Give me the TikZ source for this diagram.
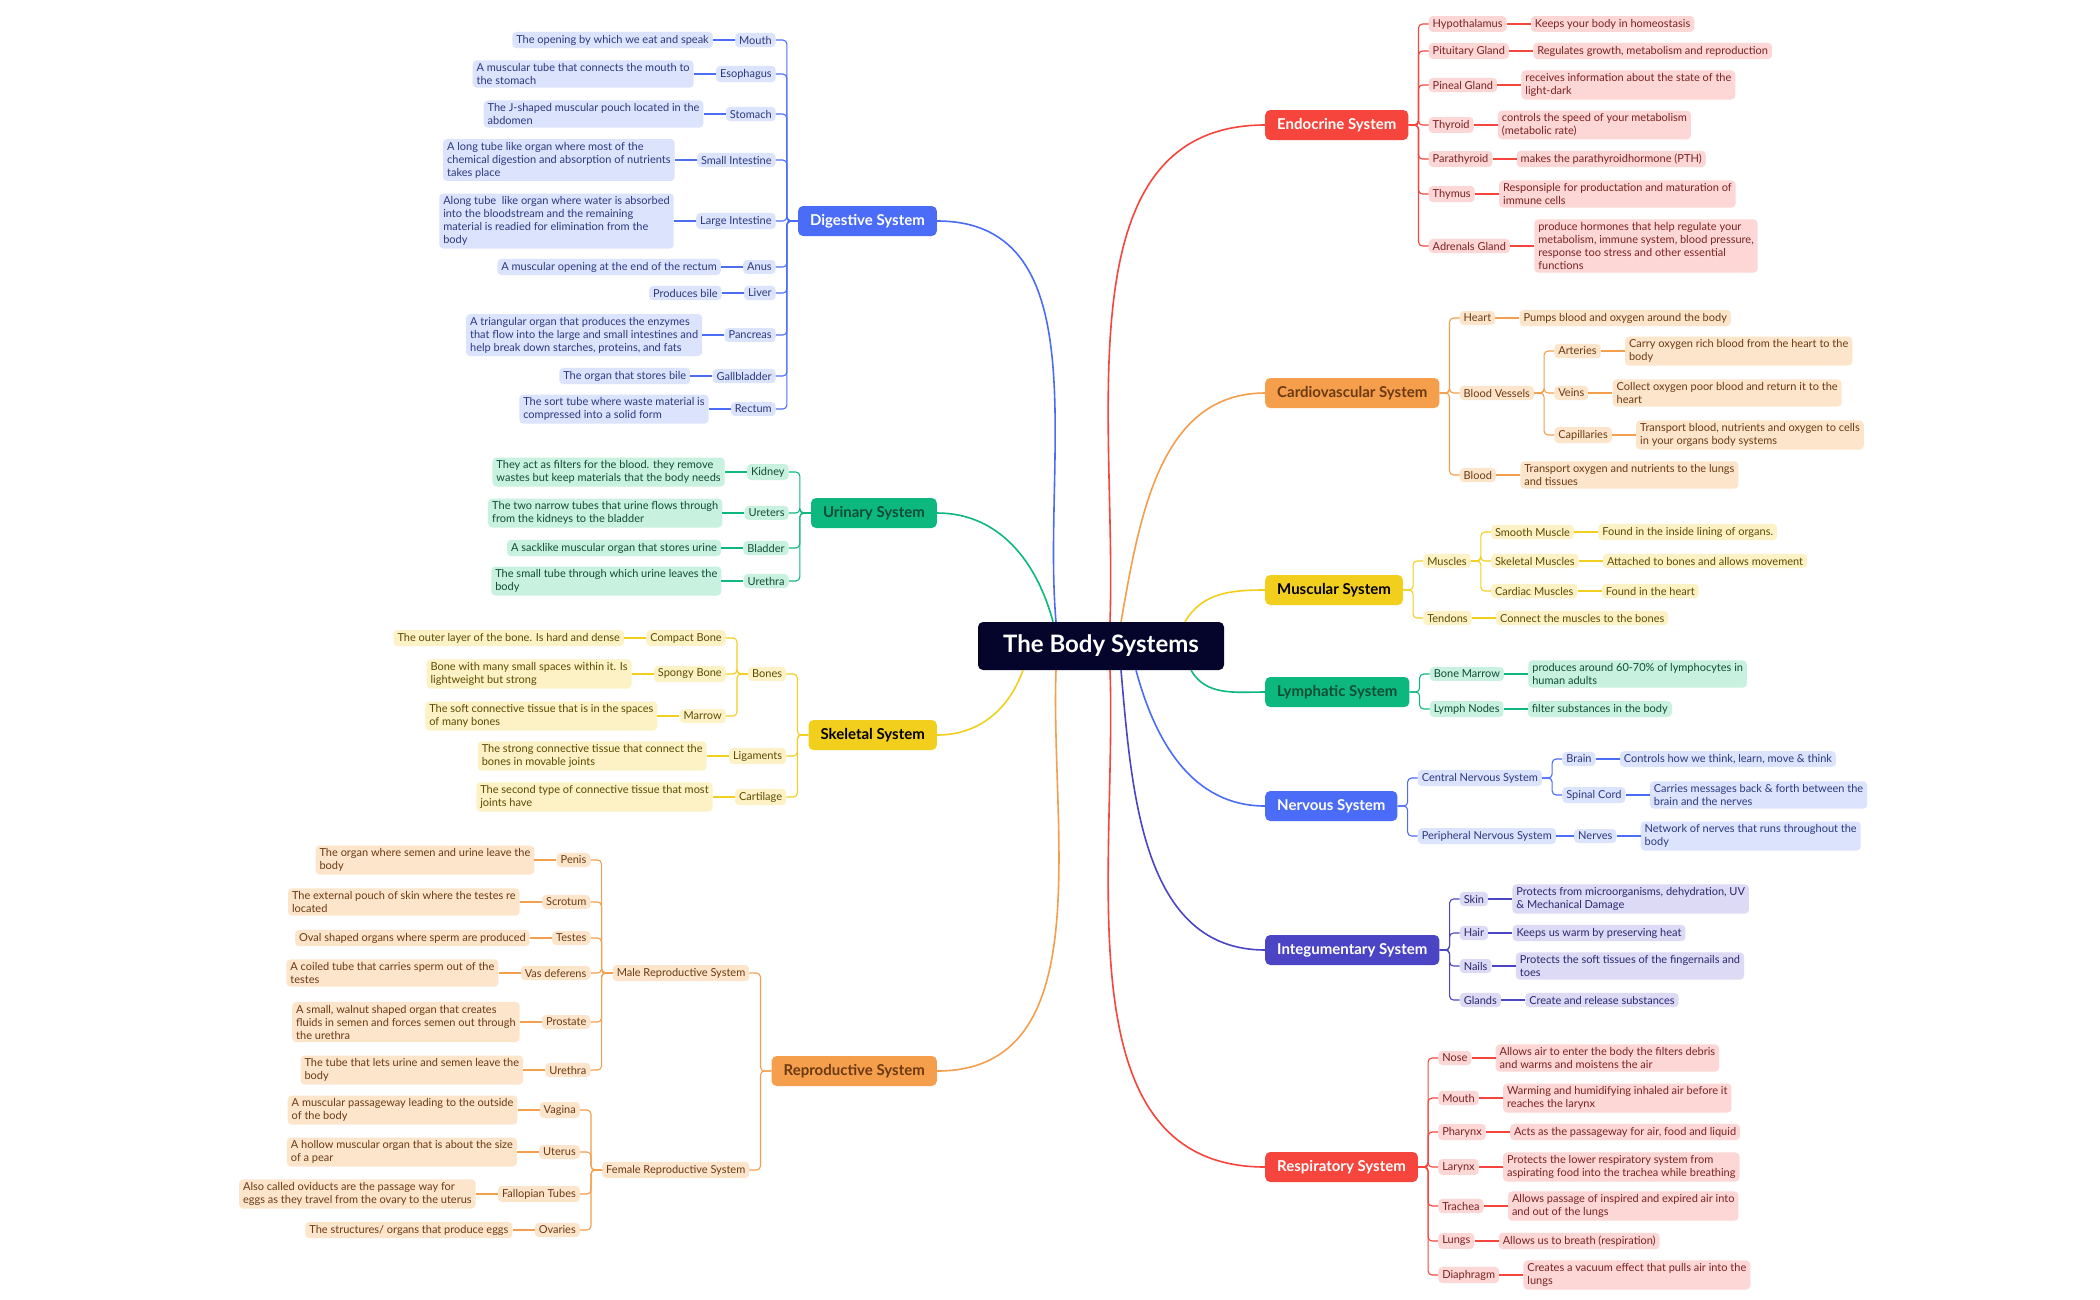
\documentclass[tikz,border=0pt]{standalone}
\usepackage{fontspec}
\setmainfont{Lato}
\usetikzlibrary{positioning}
\definecolor{blueM}{HTML}{4A6CF7}\definecolor{blueL}{HTML}{DCE3FC}\definecolor{blueT}{HTML}{2B3A80}
\definecolor{greenM}{HTML}{0DB87E}\definecolor{greenL}{HTML}{C9F1E0}\definecolor{greenT}{HTML}{0F4D36}
\definecolor{yellowM}{HTML}{F2CF1D}\definecolor{yellowL}{HTML}{FCF2C6}\definecolor{yellowT}{HTML}{5C4B00}
\definecolor{orangeM}{HTML}{F59E4C}\definecolor{orangeL}{HTML}{FDE5CC}\definecolor{orangeT}{HTML}{6B3A12}
\definecolor{redM}{HTML}{F5453D}\definecolor{redL}{HTML}{FDD7D5}\definecolor{redT}{HTML}{7A2222}
\definecolor{indigoM}{HTML}{4B45C6}\definecolor{indigoL}{HTML}{DCDAF4}\definecolor{indigoT}{HTML}{2B2870}
\definecolor{rootC}{HTML}{05052B}
\tikzset{
  sub/.style={fill=#1L, text=#1T, rounded corners=4pt, inner xsep=4pt, inner ysep=3pt,
    font=\fontsize{11}{13}\selectfont, align=left},
  link/.style={draw=#1M, line width=1.1pt, rounded corners=4pt},
  trunk/.style={draw=#1M, line width=1.6pt},
  main/.style={fill=#1M, rounded corners=5pt, minimum height=30pt, inner xsep=12pt,
    font=\fontsize{15}{17}\selectfont\bfseries},
}
% children with leaves, left of parent
\newcommand\twigsL[4]{%
  \foreach \y/\s/\l [count=\i] in {#4} {
    \path (#1.west) ++(-22,0) coordinate (#2x);
    \node[sub=#3, anchor=east] (#2\i) at (#2x |- 0,\y) {\s};
    \node[sub=#3, left=22pt of #2\i] (#2l\i) {\l};
    \draw[link=#3] (#1.west) -- ++(-11,0) |- (#2\i.east);
    \draw[link=#3] (#2\i) -- (#2l\i);
  }}
% children with leaves, right of parent
\newcommand\twigsR[4]{%
  \foreach \y/\s/\l [count=\i] in {#4} {
    \path (#1.east) ++(20,0) coordinate (#2x);
    \node[sub=#3, anchor=west] (#2\i) at (#2x |- 0,\y) {\s};
    \node[sub=#3, right=24pt of #2\i] (#2l\i) {\l};
    \draw[link=#3] (#1.east) -- ++(10,0) |- (#2\i.west);
    \draw[link=#3] (#2\i) -- (#2l\i);
  }}
\begin{document}
\begin{tikzpicture}[x=1pt, y=-1pt]
\useasboundingbox[fill=white] (0,0) rectangle (2100,1299);

\node (root) at (1101,646) [fill=rootC, text=white, rounded corners=5pt, minimum width=246pt,
  minimum height=48pt, font=\fontsize{24}{28}\selectfont\bfseries] {The Body Systems};

% main systems
\node (dig) [main=blue, text=white, anchor=east] at (937,221) {Digestive System};
\node (uri) [main=green, text=greenT, anchor=east] at (937,513) {Urinary System};
\node (ske) [main=yellow, text=black, anchor=east] at (937,735) {Skeletal System};
\node (rep) [main=orange, text=orangeT, anchor=east] at (937,1071) {Reproductive System};
\node (endo) [main=red, text=white, anchor=west] at (1265,125) {Endocrine System};
\node (card) [main=orange, text=orangeT, anchor=west] at (1265,393) {Cardiovascular System};
\node (mus) [main=yellow, text=black, anchor=west] at (1265,590) {Muscular System};
\node (lym) [main=green, text=greenT, anchor=west] at (1265,692) {Lymphatic System};
\node (ner) [main=blue, text=white, anchor=west] at (1265,806) {Nervous System};
\node (integ) [main=indigo, text=white, anchor=west] at (1265,950) {Integumentary System};
\node (resp) [main=red, text=white, anchor=west] at (1265,1167) {Respiratory System};

\draw[trunk=blue] ([xshift=-45pt]root.north) to[out=95, in=0] (dig.east);
\draw[trunk=green] ([xshift=-48pt]root.north) to[out=105, in=0] (uri.east);
\draw[trunk=yellow] ([xshift=-78pt]root.south) to[out=-110, in=0] (ske.east);
\draw[trunk=orange] ([xshift=-45pt]root.south) to[out=-92, in=0] (rep.east);
\draw[trunk=red] ([xshift=9pt]root.north) to[out=88, in=180] (endo.west);
\draw[trunk=orange] ([xshift=20pt]root.north) to[out=80, in=180] (card.west);
\draw[trunk=yellow] ([xshift=84pt]root.north) to[out=60, in=180] (mus.west);
\draw[trunk=green] ([xshift=90pt]root.south) to[out=-60, in=180] (lym.west);
\draw[trunk=blue] ([xshift=35pt]root.south) to[out=-75, in=180] (ner.west);
\draw[trunk=indigo] ([xshift=20pt]root.south) to[out=-85, in=180] (integ.west);
\draw[trunk=red] ([xshift=9pt]root.south) to[out=-88, in=180] (resp.west);

% digestive
\twigsL{dig}{d}{blue}{
  40/Mouth/{The opening by which we eat and speak},
  74/Esophagus/{A muscular tube that connects the mouth to\\the stomach},
  114/Stomach/{The J-shaped muscular pouch located in the\\abdomen},
  160/Small Intestine/{A long tube like organ where most of the\\chemical digestion and absorption of nutrients\\takes place},
  221/Large Intestine/{Along tube\ \ like organ where water is absorbed\\into the bloodstream and the remaining\\material is readied for elimination from the\\body},
  267/Anus/{A muscular opening at the end of the rectum},
  293/Liver/{Produces bile},
  335/Pancreas/{A triangular organ that produces the enzymes\\that flow into the large and small intestines and\\help break down starches, proteins, and fats},
  376/Gallbladder/{The organ that stores bile},
  409/Rectum/{The sort tube where waste material is\\compressed into a solid form}}

% urinary
\twigsL{uri}{u}{green}{
  472/Kidney/{They act as filters for the blood. they remove\\wastes but keep materials that the body needs},
  513/Ureters/{The two narrow tubes that urine flows through\\from the kidneys to the bladder},
  548/Bladder/{A sacklike muscular organ that stores urine},
  581/Urethra/{The small tube through which urine leaves the\\body}}

% skeletal
\path (ske.west) ++(-22,0) coordinate (bx);
\node (bones) [sub=yellow, anchor=east] at (bx |- 0,674) {Bones};
\draw[link=yellow] (ske.west) -- ++(-11,0) |- (bones.east);
\twigsL{ske}{s}{yellow}{
  756/Ligaments/{The strong connective tissue that connect the\\bones in movable joints},
  797/Cartilage/{The second type of connective tissue that most\\joints have}}
\twigsL{bones}{b}{yellow}{
  638/Compact Bone/{The outer layer of the bone. Is hard and dense},
  674/Spongy Bone/{Bone with many small spaces within it. Is\\lightweight but strong},
  716/Marrow/{The soft connective tissue that is in the spaces\\of many bones}}

% reproductive
\path (rep.west) ++(-22,0) coordinate (rx);
\node (male) [sub=orange, anchor=east] at (rx |- 0,973) {Male Reproductive System};
\node (female) [sub=orange, anchor=east] at (rx |- 0,1170) {Female Reproductive System};
\draw[link=orange] (rep.west) -- ++(-11,0) |- (male.east);
\draw[link=orange] (rep.west) -- ++(-11,0) |- (female.east);
\twigsL{male}{m}{orange}{
  860/Penis/{The organ where semen and urine leave the\\body},
  902/Scrotum/{The external pouch of skin where the testes re\\located},
  938/Testes/{Oval shaped organs where sperm are produced},
  973/Vas deferens/{A coiled tube that carries sperm out of the\\testes},
  1022/Prostate/{A small, walnut shaped organ that creates\\fluids in semen and forces semen out through\\the urethra},
  1070/Urethra/{The tube that lets urine and semen leave the\\body}}
\twigsL{female}{f}{orange}{
  1110/Vagina/{A muscular passageway leading to the outside\\of the body},
  1152/Uterus/{A hollow muscular organ that is about the size\\of a pear},
  1194/Fallopian Tubes/{Also called oviducts are the passage way for\\eggs as they travel from the ovary to the uterus},
  1230/Ovaries/{The structures/ organs that produce eggs}}

% endocrine
\twigsR{endo}{e}{red}{
  24/Hypothalamus/{Keeps your body in homeostasis},
  51/Pituitary Gland/{Regulates growth, metabolism and reproduction},
  85/Pineal Gland/{receives information about the state of the\\light-dark},
  125/Thyroid/{controls the speed of your metabolism\\(metabolic rate)},
  159/Parathyroid/{makes the parathyroidhormone (PTH)},
  194/Thymus/{Responsiple for productation and maturation of\\immune cells},
  246/Adrenals Gland/{produce hormones that help regulate your\\metabolism, immune system, blood pressure,\\response too stress and other essential\\functions}}

% cardiovascular
\path (card.east) ++(20,0) coordinate (cx);
\node (vessels) [sub=orange, anchor=west] at (cx |- 0,393) {Blood Vessels};
\draw[link=orange] (card.east) -- ++(10,0) |- (vessels.west);
\twigsR{card}{c}{orange}{
  318/Heart/{Pumps blood and oxygen around the body},
  475/Blood/{Transport oxygen and nutrients to the lungs\\and tissues}}
\twigsR{vessels}{v}{orange}{
  351/Arteries/{Carry oxygen rich blood from the heart to the\\body},
  393/Veins/{Collect oxygen poor blood and return it to the\\heart},
  435/Capillaries/{Transport blood, nutrients and oxygen to cells\\in your organs body systems}}

% muscular
\path (mus.east) ++(20,0) coordinate (mx);
\node (muscles) [sub=yellow, anchor=west] at (mx |- 0,561) {Muscles};
\draw[link=yellow] (mus.east) -- ++(10,0) |- (muscles.west);
\twigsR{mus}{t}{yellow}{
  618/Tendons/{Connect the muscles to the bones}}
\twigsR{muscles}{k}{yellow}{
  532/Smooth Muscle/{Found in the inside lining of organs.},
  561/Skeletal Muscles/{Attached to bones and allows movement},
  591/Cardiac Muscles/{Found in the heart}}

% lymphatic
\twigsR{lym}{l}{green}{
  674/Bone Marrow/{produces around 60-70\% of lymphocytes in\\human adults},
  709/Lymph Nodes/{filter substances in the body}}

% nervous
\path (ner.east) ++(20,0) coordinate (nx);
\node (cns) [sub=blue, anchor=west] at (nx |- 0,778) {Central Nervous System};
\node (pns) [sub=blue, anchor=west] at (nx |- 0,836) {Peripheral Nervous System};
\draw[link=blue] (ner.east) -- ++(10,0) |- (cns.west);
\draw[link=blue] (ner.east) -- ++(10,0) |- (pns.west);
\twigsR{cns}{n}{blue}{
  759/Brain/{Controls how we think, learn, move \& think},
  795/Spinal Cord/{Carries messages back \& forth between the\\brain and the nerves}}
\node (nerves) [sub=blue, right=18pt of pns] {Nerves};
\node (nervesl) [sub=blue, right=24pt of nerves] {Network of nerves that runs throughout the\\body};
\draw[link=blue] (pns) -- (nerves);
\draw[link=blue] (nerves) -- (nervesl);

% integumentary
\twigsR{integ}{i}{indigo}{
  899/Skin/{Protects from microorganisms, dehydration, UV\\\& Mechanical Damage},
  933/Hair/{Keeps us warm by preserving heat},
  966/Nails/{Protects the soft tissues of the fingernails and\\toes},
  1000/Glands/{Create and release substances}}

% respiratory
\twigsR{resp}{r}{red}{
  1058/Nose/{Allows air to enter the body the filters debris\\and warms and moistens the air},
  1098/Mouth/{Warming and humidifying inhaled air before it\\reaches the larynx},
  1132/Pharynx/{Acts as the passageway for air, food and liquid},
  1167/Larynx/{Protects the lower respiratory system from\\aspirating food into the trachea while breathing},
  1206/Trachea/{Allows passage of inspired and expired air into\\and out of the lungs},
  1241/Lungs/{Allows us to breath (respiration)},
  1275/Diaphragm/{Creates a vacuum effect that pulls air into the\\lungs}}
\end{tikzpicture}
\end{document}
